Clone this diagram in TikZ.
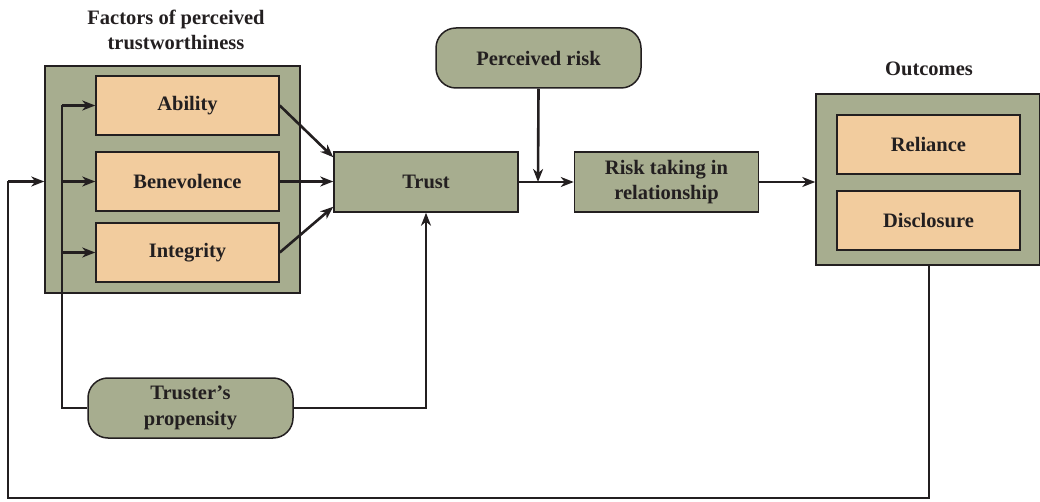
\documentclass[tikz,border=0pt]{standalone}
\usepackage{fontspec}
\setmainfont{Liberation Serif}
\usetikzlibrary{arrows.meta,calc}
\definecolor{sage}{RGB}{167,173,143}
\definecolor{tan}{RGB}{242,204,158}
\definecolor{ink}{RGB}{35,31,32}
\tikzset{
  txt/.style={font=\fontsize{20.5}{25.5}\selectfont\bfseries, text=ink, align=center},
  outerbox/.style={draw=ink, line width=1.5pt, fill=sage},
  inner/.style={txt, draw=ink, line width=1.5pt, fill=tan, minimum width=183pt, minimum height=59pt, inner sep=0pt},
  greenbox/.style={txt, draw=ink, line width=1.5pt, fill=sage, minimum width=184pt, minimum height=60pt, inner sep=0pt},
  roundbox/.style={txt, draw=ink, line width=1.5pt, fill=sage, minimum width=205pt, minimum height=60pt, inner sep=0pt, rounded corners=20pt},
  conn/.style={draw=ink, line width=2.6pt},
  arr/.style={conn, -{Stealth[length=13pt,width=10pt,inset=4pt]}},
}
\begin{document}
\begin{tikzpicture}[x=1pt,y=-1pt]
\useasboundingbox (0,0) rectangle (1040,502);
% titles
\node[txt] (ftitle) at (176,30) {Factors of perceived\\trustworthiness};
\node[txt] (otitle) at (929,69) {Outcomes};
% outer boxes
\node[outerbox, minimum width=255pt, minimum height=227pt, inner sep=0pt] (fac) at (172.5,179.5) {};
\node[outerbox, minimum width=224pt, minimum height=171pt, inner sep=0pt] (out) at (928,179.5) {};
% inner factors
\node[inner] (abil) at (187.5,105.5) {Ability};
\node[inner] (bene) at (187.5,181.5) {Benevolence};
\node[inner] (integ) at (187.5,252.5) {Integrity};
\node[inner] (rel) at (928.5,144.5) {Reliance};
\node[inner] (disc) at (928.5,220.5) {Disclosure};
% main boxes
\node[greenbox] (trust) at (426,182) {Trust};
\node[greenbox] (risk) at (666.5,182) {Risk taking in\\relationship};
\node[roundbox] (prisk) at (538.5,58) {Perceived risk};
\node[roundbox] (prop) at (190.5,408) {Truster's\\propensity};
% coordinates
\coordinate (j) at (538,182);
\coordinate (fbA) at (929,498);
\coordinate (fbB) at (8,498);
\coordinate (fbC) at (8,181.5);
\coordinate (pl) at (62,408);
% connectors
\draw[arr] (abil.east) -- ($(trust.north west)+(0,6)$);
\draw[arr] (bene.east) -- (trust.west |- bene.east);
\draw[arr] (integ.east) -- ($(trust.south west)+(0,-6)$);
\draw[conn] (trust.east) -- (j);
\draw[arr] (j) -- (risk.west);
\draw[arr] (prisk.south) -- (j);
\draw[arr] (risk.east) -- (out.west |- risk.east);
\draw[arr] (prop.east) -| (trust.south);
\draw[conn] (prop.west) -- (pl) -- (pl |- abil.west);
\draw[arr] (pl |- abil.west) -- (abil.west);
\draw[arr] (pl |- bene.west) -- (bene.west);
\draw[arr] (pl |- integ.west) -- (integ.west);
\draw[conn] (out.south -| fbA) -- (fbA) -- (fbB) -- (fbC);
\draw[arr] (fbC) -- (fac.west |- fbC);
\end{tikzpicture}
\end{document}
